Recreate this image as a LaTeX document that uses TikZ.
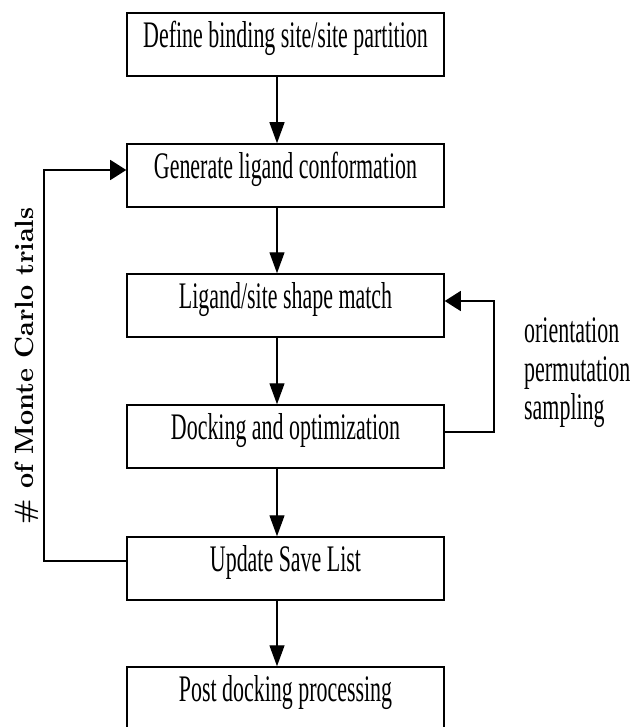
\documentclass[tikz,border=0pt]{standalone}
\usepackage{fontspec}
\newfontfamily\boxfont[FakeStretch=0.585]{Liberation Serif}
\newfontfamily\lmbx{lmroman10-bold.otf}
\usetikzlibrary{arrows.meta}
\begin{document}
\begin{tikzpicture}[x=1bp,y=-1bp,
  stepbox/.style={draw, line width=1.5bp, minimum width=317bp, minimum height=63bp,
    inner sep=0pt, font=\boxfont\fontsize{37.5bp}{40bp}\selectfont,
    text height=0.662em, text depth=0pt},
  conn/.style={line width=1.3bp},
  varrow/.style={conn, -{Triangle[length=21bp,width=15bp]}},
  harrow/.style={conn, -{Triangle[length=16bp,width=20bp]}},
  sidetext/.style={anchor=base west, inner sep=0pt, font=\boxfont\fontsize{37.5bp}{40bp}\selectfont}]
\path[use as bounding box, clip] (0,0) rectangle (633,727);

\node[stepbox] (b1) at (285.5,44.5) {Define binding site/site partition};
\node[stepbox] (b2) at (285.5,175.5) {Generate ligand conformation};
\node[stepbox] (b3) at (285.5,305.5) {Ligand/site shape match};
\node[stepbox] (b4) at (285.5,436.5) {Docking and optimization};
\node[stepbox] (b5) at (285.5,568.5) {Update Save List};
\node[stepbox] (b6) at (285.5,698.5) {Post docking processing};

\coordinate (ax) at (277,0);
\coordinate (rl) at (494,0);
\coordinate (ll) at (44,0);

\draw[varrow] (b1.south -| ax) -- (b2.north -| ax);
\draw[varrow] (b2.south -| ax) -- (b3.north -| ax);
\draw[varrow] (b3.south -| ax) -- (b4.north -| ax);
\draw[varrow] (b4.south -| ax) -- (b5.north -| ax);
\draw[varrow] (b5.south -| ax) -- (b6.north -| ax);

\draw[harrow] ([yshift=4.5bp]b4.east) -- ([yshift=4.5bp]b4.east -| rl) |- ([yshift=4.5bp]b3.east);
\draw[harrow] ([yshift=7.5bp]b5.west) -- ([yshift=7.5bp]b5.west -| ll) |- ([yshift=5.5bp]b2.west);

\node[rotate=90, anchor=base, inner sep=0pt, font=\lmbx\fontsize{26.4bp}{30bp}\selectfont] (mc) at (33,366) {\# of Monte Carlo trials};

\node[sidetext] (s1) at (524,342) {orientation};
\node[sidetext] (s2) at (524,381.5) {permutation};
\node[sidetext] (s3) at (524,419) {sampling};
\end{tikzpicture}
\end{document}
